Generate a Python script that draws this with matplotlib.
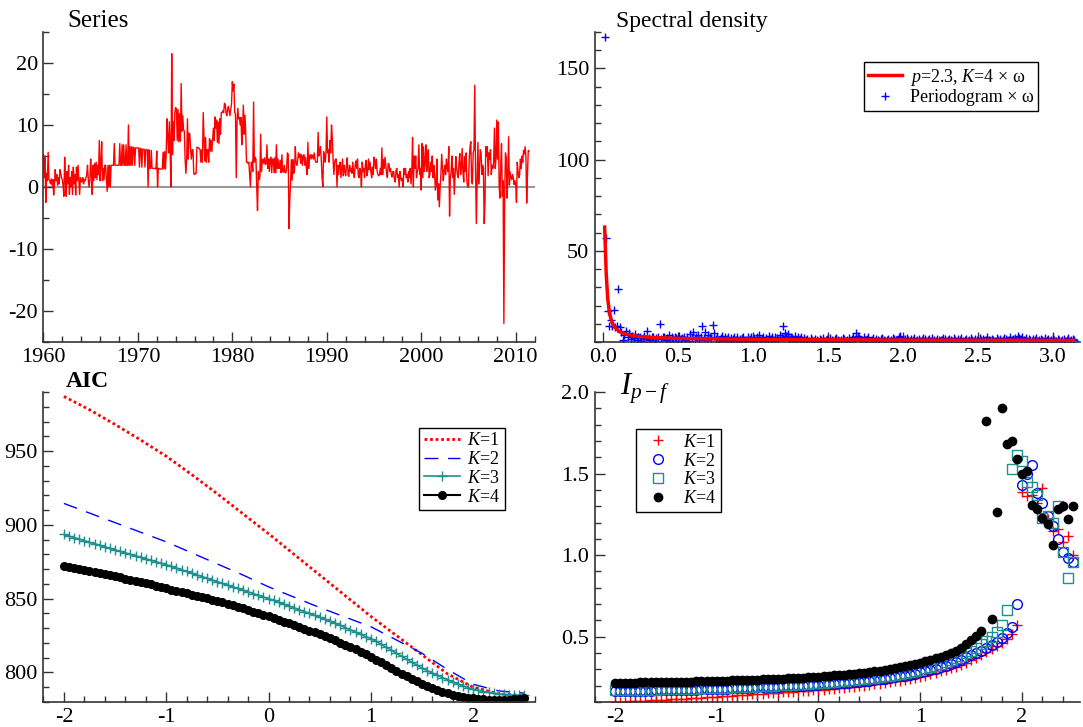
import numpy as np
import matplotlib
matplotlib.use("Agg")
import matplotlib.pyplot as plt
from matplotlib.ticker import MultipleLocator

plt.rcParams['font.family'] = ['Liberation Serif', 'DejaVu Serif']
plt.rcParams['mathtext.fontset'] = 'custom'
plt.rcParams['mathtext.rm'] = 'Liberation Serif'
plt.rcParams['mathtext.it'] = 'Liberation Serif:italic'
plt.rcParams['axes.unicode_minus'] = False

#----------Data: monthly series (annualised %), Jan 1960 - Jun 2011----------
series = [
    5.2, 1.5, 5.0, -2.5, 2.2, 1.0, 5.6, 1.2, 1.0, 0.5, 1.3, 0.3,      # 1960
    1.2, -1.3, 0.3, 2.8, 1.0, 2.0, 0.3, 1.5, 0.5, 2.8, 2.2, 1.5,      # 1961
    1.2, 0.2, -1.5, 4.8, 1.0, -1.5, 2.5, 0.5, 3.5, -1.2, 1.5, 0.0,    # 1962
    2.5, -1.2, 3.2, 0.5, 2.0, -1.3, 3.2, 1.0, 3.5, 1.0, -1.2, 1.5,    # 1963
    1.0, 0.8, 1.5, 0.5, 1.2, 1.0, 1.5, 2.0, 3.5, 1.2, 0.0, 1.0,       # 1964
    4.5, 2.0, -1.2, 3.5, 1.0, 3.8, 1.5, 4.0, 1.2, 3.5, 2.0, 7.5,      # 1965
    1.0, 3.5, 7.3, 1.0, 3.0, 1.2, 3.5, 3.5, 1.5, -0.7, 3.5, 0.0,      # 1966
    3.5, 0.0, 3.5, 3.5, 3.5, 3.5, 7.0, 3.5, 3.5, 3.5, 3.5, 3.5,       # 1967
    3.5, 7.0, 3.5, 3.5, 6.8, 3.5, 6.8, 3.5, 3.5, 6.8, 3.5, 3.5,       # 1968
    10.0, 3.5, 6.5, 3.5, 6.5, 3.5, 6.4, 6.4, 3.5, 6.3, 6.3, 6.3,      # 1969
    6.3, 6.3, 3.2, 6.2, 6.2, 3.2, 6.1, 6.1, 6.1, 3.2, 6.0, 6.0,       # 1970
    6.0, 0.0, 6.0, 3.0, 3.0, 5.9, 3.0, 3.0, 3.0, 3.0, 3.0, 2.9,       # 1971
    5.8, 0.0, 3.0, 3.0, 2.9, 2.9, 2.9, 2.9, 5.6, 2.9, 5.7, 2.9,       # 1972
    5.5, 11.0, 8.0, 5.5, 10.5, 6.0, 0.0, 21.5, 5.2, 10.5, 7.5, 12.0,  # 1973
    12.8, 12.5, 7.5, 12.5, 7.3, 11.8, 7.4, 16.7, 9.0, 11.5, 9.2, 9.0, # 1974
    4.5, 2.2, 4.5, 11.0, 4.5, 8.7, 8.5, 6.0, 4.5, 6.0, 6.0, 2.2,      # 1975
    2.0, 2.2, 2.2, 6.4, 6.4, 6.3, 6.2, 6.0, 4.0, 6.0, 4.0, 12.0,      # 1976
    8.0, 4.2, 8.0, 4.0, 6.0, 6.0, 4.0, 7.8, 5.8, 7.5, 5.7, 7.8,       # 1977
    9.5, 7.5, 11.3, 9.5, 10.8, 7.2, 10.5, 7.0, 11.0, 8.5, 12.0, 12.0, # 1978
    12.3, 12.0, 13.5, 13.3, 12.0, 11.5, 12.5, 13.0, 12.2, 11.5, 12.5, 13.5,  # 1979
    17.0, 15.5, 16.6, 12.0, 11.8, 1.5, 10.5, 12.7, 11.0, 11.2, 10.0, 11.2,   # 1980
    6.8, 9.5, 13.2, 8.5, 11.6, 9.0, 4.0, 4.0, 3.8, 4.0, 2.0, 0.0,     # 1981
    4.0, 4.0, 2.5, 13.7, 4.0, 4.8, 4.5, 0.0, -3.8, 2.5, 1.2, 1.5,     # 1982
    8.5, 2.5, 4.0, 4.5, 3.8, 4.7, 3.6, 3.8, 6.8, 3.0, 4.5, 2.5,       # 1983
    4.5, 4.8, 2.3, 4.5, 4.5, 2.3, 4.7, 2.3, 6.8, 3.0, 4.5, 3.0,       # 1984
    3.0, 4.3, 2.3, 5.2, 2.5, 2.4, 3.5, 2.3, 2.3, 3.0, 5.5, 5.2,       # 1985
    -6.7, -2.0, 0.6, 4.4, 1.1, 4.4, 2.2, 2.5, 6.5, 4.0, 3.5, 4.2,     # 1986
    5.5, 4.8, 5.3, 3.8, 5.2, 3.5, 5.0, 5.2, 3.5, 4.8, 3.2, 2.0,       # 1987
    7.2, 3.0, 5.0, 5.2, 4.5, 5.2, 5.0, 4.5, 5.5, 4.5, 4.0, 4.0,       # 1988
    4.0, 8.8, 5.0, 5.5, 6.5, 4.5, 1.5, 0.0, 5.7, 5.0, 4.0, 5.5,       # 1989
    11.3, 5.5, 6.0, 4.0, 7.5, 5.5, 10.0, 8.0, 4.5, 2.0, 4.0, 4.5,     # 1990
    4.5, 0.0, 3.5, 2.0, 3.5, 4.0, 1.5, 3.0, 4.5, 1.8, 3.5, 2.5,       # 1991
    1.8, 3.5, 4.7, 2.0, 1.7, 3.5, 2.5, 3.0, 2.2, 4.0, 2.5, 1.5,       # 1992
    3.5, 4.2, 3.0, 4.5, 2.0, 1.5, 3.0, 2.5, 0.0, 4.0, 2.5, 3.0,       # 1993
    1.5, 3.5, 4.3, 1.8, 2.5, 4.5, 2.8, 4.0, 2.5, 1.5, 3.2, 2.0,       # 1994
    4.8, 4.0, 3.0, 4.5, 2.5, 2.0, 1.8, 2.0, 3.0, 2.0, 6.3, 2.0,       # 1995
    4.4, 3.0, 4.8, 3.5, 2.2, 1.5, 3.8, 3.7, 2.5, 3.0, 2.0, 1.6,       # 1996
    2.5, 2.5, 1.2, 0.8, 2.7, 3.0, 1.5, 2.0, 0.0, 2.5, 1.5, 1.0,       # 1997
    1.4, 0.0, 3.0, 2.0, 3.0, 1.5, 2.0, 0.8, 2.5, 1.5, 3.0, 0.5,       # 1998
    2.5, 8.0, 0.0, 5.0, 3.0, 5.0, 1.5, 2.5, 3.0, 6.8, 2.0, 3.0,       # 1999
    -0.5, 7.0, 1.5, 6.5, 2.5, 4.0, 6.8, 2.5, 4.5, 6.0, 1.5, 2.0,      # 2000
    4.0, 2.5, 5.0, 1.5, 3.5, 2.0, -0.5, 0.6, 4.5, -2.1, 0.5, -3.2,    # 2001
    0.0, 2.1, 5.3, 3.0, 1.0, 2.5, 3.5, 2.0, 4.5, 3.0, 2.5, 6.5,       # 2002
    -4.7, 1.5, 2.5, 5.0, 1.5, 3.0, -1.2, 2.0, 4.9, 3.0, 2.0, 1.5,     # 2003
    4.0, 5.4, 2.0, 3.0, 6.2, 2.5, 0.8, 4.9, 2.5, 5.5, 1.0, 0.0,       # 2004
    0.0, 4.5, 6.5, 7.3, 1.0, 0.5, 5.5, 6.0, 16.4, 3.0, -5.9, 0.5,     # 2005
    7.2, 0.5, 3.0, 6.0, 5.5, 2.0, 3.5, 3.0, -5.9, -2.5, 6.5, 5.0,     # 2006
    6.5, 1.8, 5.5, 4.5, 6.0, 2.0, 3.5, 3.0, 4.0, 9.5, 3.0, 4.5,       # 2007
    10.8, 4.5, 10.5, 0.0, -1.8, 3.5, 7.0, -1.5, 1.0, -22.0, -1.5, 5.5,  # 2008
    4.7, -1.8, 2.0, 8.1, 0.3, 2.4, 1.5, 1.2, 2.0, 1.5, 0.4, 1.0,      # 2009
    0.5, -2.5, 4.0, 2.6, 1.5, 2.0, 4.5, 3.0, 5.0, 4.0, 5.9, 5.3,      # 2010
    6.5, 5.0, -2.6, 2.0, 5.9, 5.8,                                    # 2011
]
start_year = 1960

#----------Data: periodogram x omega at the Fourier frequencies----------
pgram = [
    167, 57, 17, 9, 12, 9, 17.5, 8, 8.5, 29,
    8, 5.5, 1.0, 4, 6, 2.5, 5, 1.5, 3.5, 2,
    4.5, 1, 3, 2.5, 0.5, 2, 3.5, 1.5, 6, 2,
    1, 3, 2.5, 0.5, 2, 3, 10, 1.5, 2.5, 3,
    1, 2, 4, 0.5, 3, 1.5, 2.5, 2, 0.5, 3.5,
    1.5, 2, 3, 1, 2.5, 0.5, 4.5, 2, 5.5, 1.5,
    3, 4, 1, 2.5, 8.5, 2, 5.5, 1, 4, 3,
    2, 9.5, 5, 1.5, 3, 0.5, 2, 3.5, 1, 2.5,
    1.5, 3, 0.5, 2, 1.5, 3, 1, 2.5, 0.5, 1.5,
    2, 3, 1, 0.5, 2.5, 1.5, 3, 0.5, 2, 1,
    2.5, 4, 1, 1.5, 3, 0.5, 2, 1, 3.5, 1.5,
    2.5, 0.5, 3, 2, 1, 4, 2.5, 8.5, 5, 3.5,
    4.5, 1.5, 3, 2, 0.5, 3.5, 1, 2.5, 1.5, 3,
    0.5, 2, 1, 1.5, 0.5, 2, 1, 0.3, 1.5, 1,
    0.5, 1.5, 1, 2, 0.3, 1, 1.5, 0.5, 2, 1,
    0.5, 1.5, 2, 1, 0.5, 1, 2, 1.5, 0.3, 1,
    2, 0.5, 1.5, 3, 1, 5, 3.5, 2, 1, 0.5,
    2.5, 1, 1.5, 3, 0.5, 1, 2, 0.5, 1.5, 1,
    0.5, 1.5, 2, 1, 0.3, 1, 1.5, 0.5, 1, 2,
    1.5, 0.5, 1, 2.5, 3.5, 1, 0.5, 1.5, 2, 1,
    0.5, 1.5, 1, 2, 0.5, 1, 1.5, 0.3, 1, 2,
    1.5, 0.5, 1, 1.5, 0.5, 2, 1, 0.5, 1.5, 1,
    0.3, 1, 2, 1.5, 0.5, 1, 1.5, 1, 0.5, 2,
    1, 0.5, 1.5, 1, 2, 0.5, 1, 1.5, 0.5, 1,
    2, 1, 0.5, 1.5, 1, 0.5, 2, 1, 1.5, 0.5,
    1, 2.5, 1, 0.5, 1.5, 1, 0.5, 2, 1, 1.5,
    0.5, 1, 2, 1.5, 0.5, 1, 2.5, 1, 1.5, 2,
    1, 3.5, 2, 1.5, 3, 1, 2, 0.5, 1.5, 1,
    0.5, 1.5, 1, 2, 0.5, 1, 1.5, 1, 0.5, 2,
    1, 1.5, 0.5, 1, 2, 1, 0.5, 1.5, 1, 0.5,
    1, 1.5, 0.5, 1, 2, 0.5, 1, 1.5, 1,
]

# fitted spectral density (p=2.3, K=4) times omega
fit_omega = [0.0102, 0.0203, 0.0305, 0.0407, 0.0508, 0.061, 0.0712, 0.0813, 0.1017,
             0.122, 0.1525, 0.2034, 0.254, 0.305, 0.407, 0.508, 0.61, 0.712, 0.813,
             1.017, 1.22, 1.525, 2.034, 2.54, 3.14]
fit_dens = [63, 38, 24, 17, 13, 10.5, 9, 7.8, 6.2, 5.2, 4.3, 3.4, 2.9, 2.6, 2.2,
            1.95, 1.8, 1.7, 1.6, 1.45, 1.35, 1.2, 1.05, 0.95, 0.9]

#----------Data: AIC against p----------
p_coarse = [-2.0, -1.75, -1.5, -1.25, -1.0, -0.75, -0.5, -0.25, 0.0, 0.25, 0.5,
            0.75, 1.0, 1.25, 1.5, 1.75, 2.0, 2.25, 2.5]
aic_k1 = [987, 978, 968, 957.5, 946.5, 934, 921, 907.5, 894, 880, 866, 852, 838,
          825, 812, 799, 790, 785.5, 784.5]
aic_k2 = [914.5, 908, 901.5, 895, 888.5, 881, 873.5, 866, 858, 851, 844, 837.5,
          831, 822, 813, 802, 792, 787.5, 786]

p_fine = [round(-2.0 + 0.05 * i, 2) for i in range(91)]
aic_k3 = [
    893.5, 892.4, 891.4, 890.3, 889.3, 888.2, 887.2, 886.1, 885.1, 884.0,
    883.0, 882.0, 881.0, 880.0, 879.0, 878.0, 877.0, 876.0, 875.0, 874.0,
    873.0, 871.8, 870.7, 869.5, 868.4, 867.2, 866.1, 864.9, 863.8, 862.6,
    861.5, 860.3, 859.2, 858.0, 856.9, 855.7, 854.6, 853.4, 852.3, 851.1,
    850.0, 848.8, 847.5, 846.3, 845.0, 843.8, 842.5, 841.2, 840.0, 838.7,
    837.5, 836.1, 834.7, 833.3, 831.9, 830.4, 828.9, 827.3, 825.8, 824.2,
    823.0, 821.1, 819.1, 817.1, 815.1, 813.0, 811.0, 809.0, 807.0, 805.0,
    803.0, 801.3, 799.6, 798.0, 796.5, 795.0, 793.6, 792.3, 791.0, 789.7,
    788.5, 787.8, 787.1, 786.5, 786.0, 785.5, 785.2, 784.9, 784.7, 784.6,
    784.5]
aic_k4 = [
    872.0, 871.4, 870.8, 870.1, 869.5, 868.8, 868.1, 867.4, 866.7, 865.9,
    865.2, 864.4, 863.6, 862.8, 862.0, 861.2, 860.4, 859.6, 858.8, 857.9,
    857.0, 856.2, 855.3, 854.5, 853.6, 852.8, 851.9, 851.1, 850.2, 849.4,
    848.5, 847.5, 846.5, 845.5, 844.5, 843.4, 842.3, 841.3, 840.2, 839.1,
    838.0, 836.8, 835.6, 834.4, 833.2, 832.0, 830.8, 829.5, 828.3, 827.1,
    826.0, 824.6, 823.2, 821.8, 820.3, 818.8, 817.2, 815.6, 813.9, 812.2,
    810.5, 808.7, 806.8, 804.9, 803.0, 801.1, 799.3, 797.5, 795.8, 794.1,
    792.5, 791.0, 789.6, 788.2, 787.0, 786.0, 785.0, 784.2, 783.5, 782.9,
    782.5, 782.1, 781.8, 781.6, 781.5, 781.5, 781.5, 781.6, 781.8, 782.0,
    782.4]

#----------Data: I_{p-f} against p----------
ipf_k1 = [
    0.100, 0.102, 0.103, 0.105, 0.106, 0.108, 0.109, 0.111, 0.112, 0.114,
    0.115, 0.117, 0.118, 0.120, 0.121, 0.123, 0.125, 0.127, 0.129, 0.131,
    0.133, 0.135, 0.137, 0.139, 0.141, 0.143, 0.145, 0.147, 0.149, 0.151,
    0.153, 0.155, 0.157, 0.159, 0.161, 0.163, 0.165, 0.167, 0.169, 0.171,
    0.173, 0.176, 0.179, 0.182, 0.185, 0.188, 0.191, 0.194, 0.197, 0.200,
    0.204, 0.208, 0.212, 0.216, 0.221, 0.226, 0.231, 0.237, 0.243, 0.249,
    0.255, 0.262, 0.270, 0.278, 0.287, 0.296, 0.306, 0.317, 0.329, 0.342,
    0.356, 0.371, 0.387, 0.404, 0.422, 0.441, 0.462, 0.486, 0.515, 0.570,
    1.39, 1.36, 1.37, 1.32, 1.41, 1.22, 1.15, 1.16, 1.08, 1.12, 1.00]
ipf_k2 = [
    0.167, 0.167, 0.168, 0.168, 0.169, 0.169, 0.170, 0.170, 0.171, 0.171,
    0.172, 0.172, 0.173, 0.174, 0.174, 0.175, 0.176, 0.177, 0.178, 0.179,
    0.180, 0.181, 0.182, 0.183, 0.184, 0.185, 0.186, 0.187, 0.189, 0.190,
    0.191, 0.192, 0.194, 0.195, 0.197, 0.198, 0.200, 0.201, 0.203, 0.204,
    0.206, 0.208, 0.210, 0.212, 0.214, 0.217, 0.219, 0.222, 0.225, 0.228,
    0.231, 0.235, 0.239, 0.243, 0.247, 0.252, 0.257, 0.262, 0.268, 0.274,
    0.281, 0.288, 0.296, 0.304, 0.313, 0.323, 0.334, 0.346, 0.359, 0.373,
    0.390, 0.400, 0.415, 0.430, 0.450, 0.470, 0.490, 0.520, 0.560, 0.700,
    1.43, 1.50, 1.555, 1.38, 1.32, 1.24, 1.18, 1.10, 1.02, 0.98, 0.96]
ipf_k3 = [
    0.172, 0.172, 0.173, 0.173, 0.174, 0.174, 0.175, 0.175, 0.176, 0.177,
    0.177, 0.178, 0.179, 0.179, 0.180, 0.181, 0.182, 0.183, 0.184, 0.185,
    0.186, 0.187, 0.188, 0.189, 0.190, 0.192, 0.193, 0.194, 0.196, 0.197,
    0.199, 0.200, 0.202, 0.203, 0.205, 0.207, 0.209, 0.211, 0.213, 0.215,
    0.217, 0.219, 0.221, 0.224, 0.226, 0.229, 0.232, 0.235, 0.238, 0.241,
    0.245, 0.249, 0.253, 0.257, 0.262, 0.267, 0.272, 0.278, 0.284, 0.291,
    0.298, 0.306, 0.314, 0.323, 0.333, 0.344, 0.356, 0.369, 0.383, 0.398,
    0.414, 0.432, 0.455, 0.475, 0.500, 0.530, 0.570, 0.665, 1.53, 1.615,
    1.58, 1.45, 1.42, 1.37, 1.23, 1.24, 1.20, 1.30, 1.02, 0.86, 0.96]
ipf_k4 = [
    0.218, 0.218, 0.219, 0.219, 0.219, 0.220, 0.220, 0.221, 0.221, 0.222,
    0.222, 0.223, 0.223, 0.224, 0.224, 0.225, 0.226, 0.226, 0.227, 0.228,
    0.229, 0.230, 0.231, 0.232, 0.233, 0.234, 0.235, 0.236, 0.237, 0.238,
    0.239, 0.240, 0.242, 0.243, 0.245, 0.246, 0.248, 0.250, 0.252, 0.254,
    0.256, 0.258, 0.260, 0.263, 0.265, 0.268, 0.271, 0.274, 0.277, 0.280,
    0.284, 0.288, 0.292, 0.297, 0.302, 0.307, 0.313, 0.319, 0.326, 0.333,
    0.341, 0.349, 0.358, 0.368, 0.378, 0.389, 0.401, 0.414, 0.430, 0.455,
    0.480, 0.505, 0.535, 1.82, 0.61, 1.265, 1.90, 1.68, 1.70, 1.59,
    1.50, 1.515, 1.31, 1.28, 1.23, 1.19, 1.06, 1.28, 1.30, 1.22, 1.30]

red = '#ff0000'
blue = '#0000ff'
teal = '#1f8f8f'
axis_col = '#333333'


def style_axes(ax):
    for side in ['top', 'right']:
        ax.spines[side].set_visible(False)
    for side in ['left', 'bottom']:
        ax.spines[side].set_color(axis_col)
        ax.spines[side].set_linewidth(1.2)
    ax.tick_params(which='both', direction='in', top=False, right=False,
                   color=axis_col, width=1.0, labelsize=16, pad=4)
    ax.tick_params(which='major', length=7)
    ax.tick_params(which='minor', length=4)


def boxed_legend(ax, **kw):
    leg = ax.legend(fontsize=13, frameon=True, fancybox=False, edgecolor='black',
                    framealpha=1, borderpad=0.25, labelspacing=0.1,
                    borderaxespad=0, **kw)
    leg.get_frame().set_linewidth(1.0)
    return leg


fig = plt.figure(figsize=(10.83, 7.27), dpi=100)

L, R = 0.0401, 0.549
W_L, W_R = 0.4535, 0.4483
B_top, B_bot, H = 0.5296, 0.0344, 0.4264

#----------Series----------
ax1 = fig.add_axes([L, B_top, W_L, H])
style_axes(ax1)
t = start_year + np.arange(len(series)) / 12.0
ax1.axhline(0, color='#999999', lw=1.5, zorder=1)
ax1.plot(t, series, color=red, lw=1.0, zorder=2)
ax1.set_xlim(1960, 2012)
ax1.set_ylim(-25, 25)
ax1.xaxis.set_major_locator(MultipleLocator(10))
ax1.xaxis.set_minor_locator(MultipleLocator(2))
ax1.yaxis.set_major_locator(MultipleLocator(10))
ax1.yaxis.set_minor_locator(MultipleLocator(5))
fig.text(67 / 1083, 1 - 27 / 727, 'Series', fontsize=18, va='baseline')

#----------Spectral density----------
ax2 = fig.add_axes([R, B_top, W_R, H])
style_axes(ax2)
omega = 2 * np.pi * np.arange(1, len(pgram) + 1) / len(series)
ax2.plot(fit_omega, fit_dens, color=red, lw=2.5, zorder=3,
         label=r'$p$=2.3, $K$=4 × ω')
ax2.plot(omega, pgram, linestyle='none', marker='+', color=blue, ms=6, mew=1.0,
         zorder=2, label='Periodogram × ω')
ax2.set_xlim(-0.057, 3.18)
ax2.set_ylim(0, 170)
ax2.xaxis.set_minor_locator(MultipleLocator(0.25))
ax2.yaxis.set_minor_locator(MultipleLocator(10))
ax2.set_xticks([0, 0.5, 1.0, 1.5, 2.0, 2.5, 3.0])
ax2.set_xticklabels(['0.0', '0.5', '1.0', '1.5', '2.0', '2.5', '3.0'])
ax2.set_yticks([50, 100, 150])
boxed_legend(ax2, loc='upper right', bbox_to_anchor=(0.913, 0.903),
             handlelength=1.9, handletextpad=0.4)
fig.text(616 / 1083, 1 - 27 / 727, 'Spectral density', fontsize=17, va='baseline')

#----------AIC----------
ax3 = fig.add_axes([L, B_bot, W_L, H])
style_axes(ax3)
ax3.plot(p_coarse, aic_k1, color=red, lw=2.0, linestyle=(0, (1, 1)), label=r'$K$=1')
ax3.plot(p_coarse, aic_k2, color=blue, lw=1.0, linestyle=(0, (10, 7)), label=r'$K$=2')
ax3.plot(p_fine, aic_k3, color=teal, lw=1.2, marker='+', ms=7, mew=1.0, label=r'$K$=3')
ax3.plot(p_fine, aic_k4, color='black', lw=1.5, marker='o', ms=5.5, label=r'$K$=4')
ax3.set_xlim(-2.2, 2.6)
ax3.set_ylim(780, 990)
ax3.xaxis.set_major_locator(MultipleLocator(1))
ax3.xaxis.set_minor_locator(MultipleLocator(0.2))
ax3.yaxis.set_major_locator(MultipleLocator(50))
ax3.yaxis.set_minor_locator(MultipleLocator(10))
boxed_legend(ax3, loc='upper right', bbox_to_anchor=(0.939, 0.885),
             handlelength=2.0, handletextpad=0.4)
fig.text(66 / 1083, 1 - 386.7 / 727, 'AIC', fontsize=17, fontweight='bold', va='baseline')

#----------I_{p-f}----------
ax4 = fig.add_axes([R, B_bot, W_R, H])
style_axes(ax4)
ax4.plot(p_fine, ipf_k1, linestyle='none', marker='+', color=red, ms=7, mew=1.0,
         label=r'$K$=1')
ax4.plot(p_fine, ipf_k2, linestyle='none', marker='o', mfc='none', mec=blue, ms=7,
         mew=1.0, label=r'$K$=2')
ax4.plot(p_fine, ipf_k3, linestyle='none', marker='s', mfc='none', mec=teal, ms=6.5,
         mew=1.0, label=r'$K$=3')
ax4.plot(p_fine, ipf_k4, linestyle='none', marker='o', color='black', ms=6,
         label=r'$K$=4')
ax4.set_xlim(-2.2, 2.57)
ax4.set_ylim(0.1, 2.0)
ax4.xaxis.set_major_locator(MultipleLocator(1))
ax4.xaxis.set_minor_locator(MultipleLocator(0.2))
ax4.set_yticks([0.5, 1.0, 1.5, 2.0])
ax4.set_yticklabels(['0.5', '1.0', '1.5', '2.0'])
ax4.yaxis.set_minor_locator(MultipleLocator(0.1))
boxed_legend(ax4, loc='upper left', bbox_to_anchor=(0.0845, 0.88),
             handlelength=2.0, handletextpad=0.4, numpoints=1)
fig.text(620 / 1083, 1 - 395 / 727, r'$I_{p-f}$', fontsize=22, va='baseline')

fig.savefig('out.png', dpi=100)
